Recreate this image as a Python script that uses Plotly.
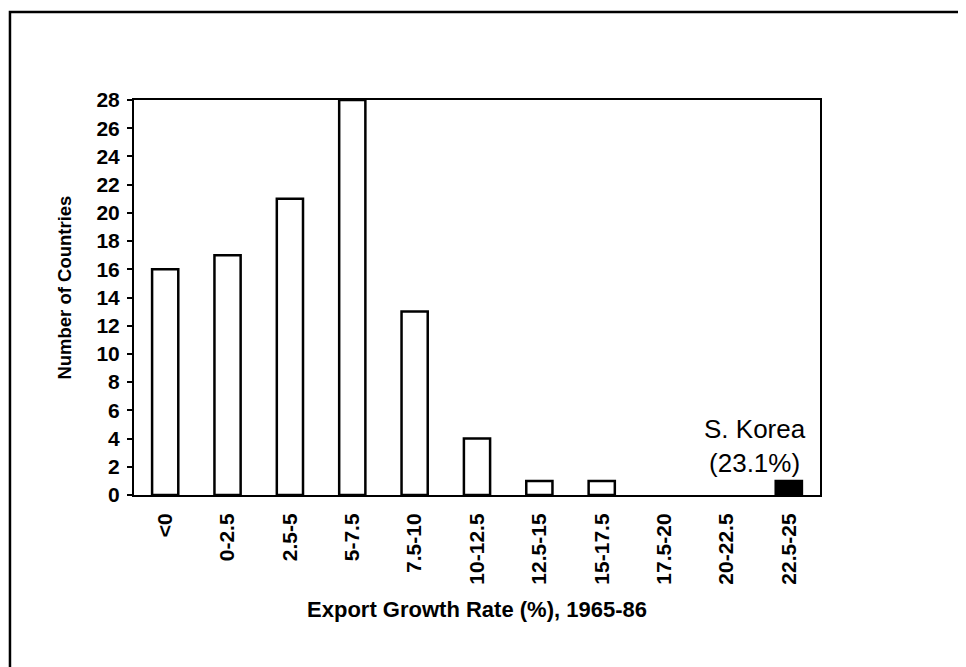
import plotly.graph_objects as go

categories = ["<0", "0-2.5", "2.5-5", "5-7.5", "7.5-10", "10-12.5",
              "12.5-15", "15-17.5", "17.5-20", "20-22.5", "22.5-25"]
counts = [16, 17, 21, 28, 13, 4, 1, 1, 0, 0, 1]
highlight = [False] * 10 + [True]
y_ticks = list(range(0, 29, 2))
annotation_text = "S. Korea<br>(23.1%)"
x_title = "Export Growth Rate (%), 1965-86"
y_title = "Number of Countries"

FONT = "Liberation Sans, Arial, sans-serif"

fill_colors = ["black" if h else "white" for h in highlight]
outline_widths = [2.5 if c > 0 else 0 for c in counts]

fig = go.Figure()
fig.add_trace(go.Bar(
    x=categories, y=counts,
    marker=dict(color=fill_colors, line=dict(color="black", width=outline_widths)),
    showlegend=False,
))

fig.update_layout(
    width=966, height=667, autosize=False,
    margin=dict(l=126, r=154, t=92, b=180),
    paper_bgcolor="white", plot_bgcolor="white",
    bargap=0.58,
    font=dict(family=FONT, color="black"),
    xaxis=dict(
        type="category", categoryorder="array", categoryarray=categories,
        tickangle=-90, ticks="", showgrid=False,
        showline=True, linecolor="black", linewidth=2, mirror=True,
        ticklabelstandoff=8,
        tickfont=dict(size=21, family=FONT, weight="bold"),
        title=dict(text=x_title, font=dict(size=22, family=FONT, weight="bold"), standoff=18),
    ),
    yaxis=dict(
        range=[0, 28], tickvals=y_ticks, ticks="outside", ticklen=5, tickwidth=1.5,
        tickcolor="black", showgrid=False, zeroline=False,
        showline=True, linecolor="black", linewidth=2, mirror=True,
        ticklabelstandoff=3,
        tickfont=dict(size=21, family=FONT, weight="bold"),
    ),
    yaxis2=dict(
        overlaying="y", matches="y", range=[0, 28], tickvals=y_ticks,
        ticks="inside", ticklen=5, tickwidth=1.5, tickcolor="black",
        showticklabels=False, showgrid=False, zeroline=False, side="left",
    ),
)

# y-axis title (placed slightly above the axis centre, as in the original)
fig.add_annotation(
    x=-0.1006, y=0.525, xref="paper", yref="paper", text=y_title, showarrow=False,
    textangle=-90, font=dict(size=18.5, family=FONT, weight="bold", color="black"),
    xanchor="center", yanchor="middle",
)

fig.add_annotation(
    x=9.45, y=3.5, xref="x", yref="y", text=annotation_text, showarrow=False,
    font=dict(size=26, family=FONT, color="black"), align="center",
    yanchor="middle", xanchor="center",
)

# outer frame of the figure
fig.add_shape(type="rect", xref="paper", yref="paper",
              x0=-0.1808, x1=1.25, y0=-0.5, y1=1.2228,
              line=dict(color="black", width=2.5), fillcolor="rgba(0,0,0,0)", layer="below")

fig.write_html("out.html")
